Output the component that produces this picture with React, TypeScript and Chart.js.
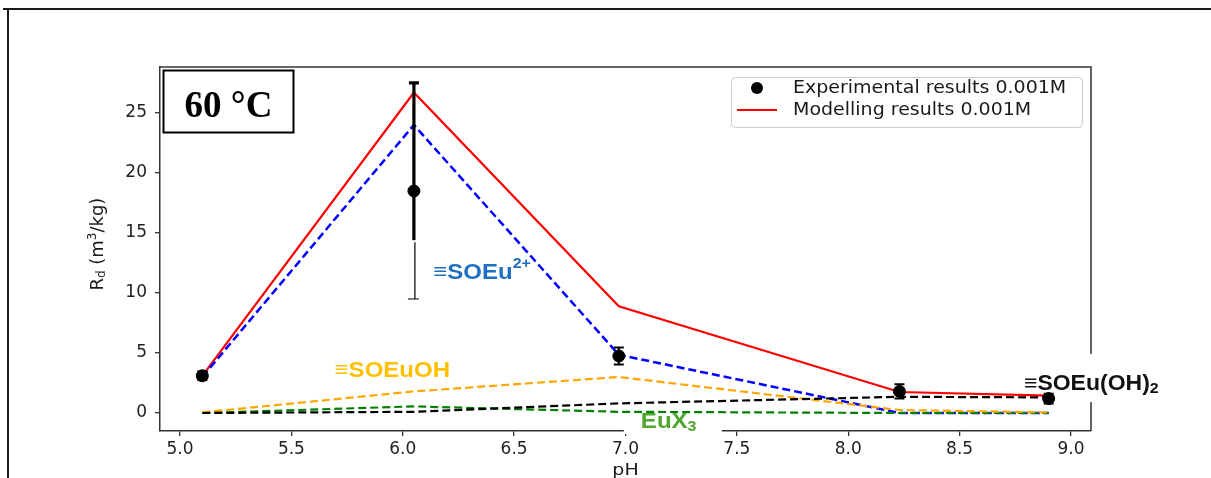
import { useEffect, useRef } from "react";
import { Chart, registerables } from "chart.js";

Chart.register(...registerables);

// pH of each sample
const phValues = [5.1, 6.05, 6.97, 8.23, 8.9];
// Measured distribution coefficients and their uncertainties (m3/kg)
const experimentalRd = [3.1, 18.5, 4.75, 1.8, 1.2];
const experimentalErr = [0.35, 9.0, 0.7, 0.6, 0.4];
// Total modelled Rd and its surface-species contributions
const modelledRd = [3.1, 26.7, 8.9, 1.75, 1.45];
const soeu2plusRd = [3.0, 24.0, 4.85, 0.0, 0.0];
const soeuohRd = [0.05, 1.8, 3.0, 0.25, 0.05];
const eux3Rd = [0.0, 0.55, 0.1, 0.0, 0.0];
const soeuoh2Rd = [0.0, 0.1, 0.8, 1.35, 1.3];

const xTicks = [5.0, 5.5, 6.0, 6.5, 7.0, 7.5, 8.0, 8.5, 9.0];
const yTicks = [0, 5, 10, 15, 20, 25];
const legendLabels = ["Experimental results 0.001M", "Modelling results 0.001M"];
const temperatureLabel = "60 °C";

const SQUISH = 0.88;
const LABEL_SQUISH = 0.95;
const SANS = '"DejaVu Sans", sans-serif';
const BOLD_SANS = '"Liberation Sans", Arial, sans-serif';

type Part = { text: string; size: number; dy: number };

function squished(ctx: CanvasRenderingContext2D, text: string, x: number, y: number, font: string, color: string, baseline: CanvasTextBaseline = "alphabetic", sy = SQUISH) {
  ctx.save();
  ctx.font = font;
  ctx.fillStyle = color;
  ctx.textAlign = "left";
  ctx.textBaseline = baseline;
  ctx.translate(x, y);
  ctx.scale(1, sy);
  ctx.fillText(text, 0, 0);
  const w = ctx.measureText(text).width;
  ctx.restore();
  return w;
}

function richLabel(ctx: CanvasRenderingContext2D, x: number, y: number, parts: Part[], color: string) {
  let cx = x;
  for (const p of parts) {
    cx += squished(ctx, p.text, cx, y + p.dy, `bold ${p.size}px ${BOLD_SANS}`, color, "alphabetic", LABEL_SQUISH);
  }
  return cx - x;
}

const pts = (ys: number[]) => phValues.map((x, i) => ({ x, y: ys[i] }));

const decorations = {
  id: "decorations",
  beforeDraw(chart: any) {
    const ctx = chart.ctx as CanvasRenderingContext2D;
    ctx.save();
    ctx.fillStyle = "#ffffff";
    ctx.fillRect(0, 0, chart.width, chart.height);
    ctx.restore();
  },
  afterDatasetsDraw(chart: any) {
    const ctx = chart.ctx as CanvasRenderingContext2D;
    const xs = chart.scales.x;
    const ys = chart.scales.y;
    ctx.save();
    ctx.strokeStyle = "#000";
    ctx.lineCap = "butt";
    phValues.forEach((ph, i) => {
      const px = xs.getPixelForValue(ph);
      const top = ys.getPixelForValue(experimentalRd[i] + experimentalErr[i]);
      const bot = ys.getPixelForValue(experimentalRd[i] - experimentalErr[i]);
      ctx.lineWidth = experimentalErr[i] > 5 ? 3.2 : 2;
      ctx.beginPath();
      ctx.moveTo(px, top);
      ctx.lineTo(px, bot);
      ctx.moveTo(px - 5, top);
      ctx.lineTo(px + 5, top);
      ctx.moveTo(px - 5, bot);
      ctx.lineTo(px + 5, bot);
      ctx.stroke();
    });
    ctx.restore();
  },
  afterDraw(chart: any) {
    const ctx = chart.ctx as CanvasRenderingContext2D;
    const { left, right, top, bottom } = chart.chartArea;
    const xs = chart.scales.x;
    const ys = chart.scales.y;

    // top and right spines
    ctx.save();
    ctx.strokeStyle = "#333";
    ctx.lineWidth = 1.5;
    ctx.beginPath();
    ctx.moveTo(left, top);
    ctx.lineTo(right, top);
    ctx.lineTo(right, bottom);
    ctx.stroke();
    ctx.restore();

    // outer figure frame
    ctx.save();
    ctx.fillStyle = "#1a1a1a";
    ctx.fillRect(3, 8, chart.width - 3, 2);
    ctx.fillRect(7, 9, 2, chart.height - 9);
    ctx.restore();

    // temperature box
    ctx.save();
    ctx.fillStyle = "#fff";
    ctx.fillRect(left + 3, top + 3, 131, 63);
    ctx.strokeStyle = "#000";
    ctx.lineWidth = 2;
    ctx.strokeRect(left + 3.5, top + 3.5, 130, 62);
    ctx.fillStyle = "#000";
    ctx.font = 'bold 37px "Liberation Serif", "Times New Roman", serif';
    ctx.textAlign = "center";
    ctx.textBaseline = "alphabetic";
    ctx.fillText(temperatureLabel, left + 68.5, top + 50);
    ctx.restore();

    // legend
    const lx = right - 360;
    const ly = top + 10;
    ctx.save();
    ctx.beginPath();
    ctx.roundRect(lx + 0.5, ly + 0.5, 351, 50, 4);
    ctx.fillStyle = "rgba(255,255,255,0.85)";
    ctx.fill();
    ctx.strokeStyle = "#cccccc";
    ctx.lineWidth = 1;
    ctx.stroke();
    ctx.fillStyle = "#000";
    ctx.beginPath();
    ctx.arc(lx + 26, ly + 11, 6, 0, Math.PI * 2);
    ctx.fill();
    ctx.strokeStyle = "#ff0000";
    ctx.lineWidth = 2;
    ctx.beginPath();
    ctx.moveTo(lx + 6, ly + 33);
    ctx.lineTo(lx + 46, ly + 33);
    ctx.stroke();
    ctx.restore();
    squished(ctx, legendLabels[0], lx + 62, ly + 11, `19px ${SANS}`, "#1a1a1a", "middle", 0.92);
    squished(ctx, legendLabels[1], lx + 62, ly + 33, `19px ${SANS}`, "#1a1a1a", "middle", 0.92);

    // lower whisker of the 6.05 error bar continues thin behind the ≡SOEu²⁺ label
    const ex = xs.getPixelForValue(phValues[1]);
    const cut = ys.getPixelForValue(14.4);
    const low = ys.getPixelForValue(experimentalRd[1] - experimentalErr[1]);
    ctx.save();
    ctx.fillStyle = "#fff";
    ctx.fillRect(ex - 7, cut, 14, low - cut + 3);
    ctx.strokeStyle = "#000";
    ctx.lineWidth = 1.2;
    ctx.beginPath();
    ctx.moveTo(ex + 1, cut + 2);
    ctx.lineTo(ex + 1, low);
    ctx.moveTo(ex - 6, low);
    ctx.lineTo(ex + 5, low);
    ctx.stroke();
    ctx.restore();

    // species labels
    const a = { x: xs.getPixelForValue(6.137), y: ys.getPixelForValue(11.2) };
    richLabel(ctx, a.x, a.y, [
      { text: "≡SOEu", size: 24, dy: 0 },
      { text: "2+", size: 16, dy: -11 },
    ], "#1f70c1");

    const b = { x: xs.getPixelForValue(5.694), y: ys.getPixelForValue(3.0) };
    richLabel(ctx, b.x, b.y, [{ text: "≡SOEuOH", size: 24, dy: 0 }], "#ffc000");

    const c = { x: xs.getPixelForValue(7.069), y: ys.getPixelForValue(-1.25) };
    ctx.save();
    ctx.fillStyle = "#fff";
    ctx.fillRect(c.x - 17, c.y - 10, 98, 16);
    ctx.restore();
    richLabel(ctx, c.x, c.y, [
      { text: "EuX", size: 24, dy: 0 },
      { text: "3", size: 16, dy: 3 },
    ], "#4ea72e");

    const d = { x: xs.getPixelForValue(8.789), y: ys.getPixelForValue(1.92) };
    ctx.save();
    ctx.fillStyle = "#fff";
    ctx.fillRect(d.x + 61, d.y - 36, 74, 48);
    ctx.restore();
    richLabel(ctx, d.x, d.y, [
      { text: "≡SOEu(OH)", size: 23, dy: 0 },
      { text: "2", size: 16, dy: 3 },
    ], "#111");

    // axis titles
    ctx.save();
    ctx.fillStyle = "#1a1a1a";
    ctx.font = `19px ${SANS}`;
    ctx.textAlign = "center";
    ctx.textBaseline = "alphabetic";
    ctx.translate((left + right) / 2, chart.height - 3);
    ctx.scale(1, SQUISH);
    ctx.fillText("pH", 0, 0);
    ctx.restore();

    ctx.save();
    ctx.fillStyle = "#1a1a1a";
    ctx.textBaseline = "middle";
    ctx.textAlign = "left";
    ctx.translate(left - 62, ys.getPixelForValue(10.2));
    ctx.rotate(-Math.PI / 2);
    const title: Part[] = [
      { text: "R", size: 18, dy: 0 },
      { text: "d", size: 12, dy: 4 },
      { text: " (m", size: 18, dy: 0 },
      { text: "3", size: 12, dy: -5 },
      { text: "/kg)", size: 18, dy: 0 },
    ];
    let tx = 0;
    for (const p of title) {
      ctx.font = `${p.size}px ${SANS}`;
      ctx.fillText(p.text, tx, p.dy);
      tx += ctx.measureText(p.text).width;
    }
    ctx.restore();
  },
};

export default function App() {
  const canvasRef = useRef<HTMLCanvasElement | null>(null);

  useEffect(() => {
    const canvas = canvasRef.current;
    if (!canvas) return;
    const dashed = (data: number[], color: string, order: number, width = 2.2) => ({
      label: "",
      data: pts(data),
      borderColor: color,
      backgroundColor: color,
      borderWidth: width,
      borderDash: [8, 4],
      pointRadius: 0,
      fill: false,
      tension: 0,
      order,
    });
    const chart = new Chart(canvas, {
      type: "line",
      data: {
        datasets: [
          {
            label: legendLabels[0],
            data: pts(experimentalRd),
            showLine: false,
            pointRadius: 6,
            pointBackgroundColor: "#000",
            pointBorderColor: "#000",
            borderColor: "#000",
            order: 0,
          } as any,
          dashed(soeuoh2Rd, "#000000", 1),
          dashed(soeuohRd, "#ffa500", 2),
          dashed(eux3Rd, "#008000", 3),
          dashed(soeu2plusRd, "#0000ff", 4, 2.5),
          {
            label: legendLabels[1],
            data: pts(modelledRd),
            borderColor: "#ff0000",
            backgroundColor: "#ff0000",
            borderWidth: 2.2,
            pointRadius: 0,
            fill: false,
            tension: 0,
            order: 5,
          },
        ],
      },
      options: {
        responsive: false,
        animation: false,
        layout: { padding: { left: 0, top: 67, right: 120, bottom: 0 } },
        plugins: { legend: { display: false }, tooltip: { enabled: false } },
        scales: {
          x: {
            type: "linear",
            min: 4.91,
            max: 9.09,
            afterBuildTicks: (s: any) => {
              s.ticks = xTicks.map((v) => ({ value: v }));
            },
            afterFit: (s: any) => {
              s.height = 47;
            },
            ticks: {
              callback: (v: any) => Number(v).toFixed(1),
              font: { family: SANS, size: 17 },
              color: "#222",
              padding: 3,
              maxRotation: 0,
              autoSkip: false,
            },
            grid: { display: true, drawOnChartArea: false, drawTicks: true, tickLength: 5, color: "#333", lineWidth: 1.3 },
            border: { display: true, color: "#333", width: 1.5 },
          },
          y: {
            type: "linear",
            min: -1.5,
            max: 28.83,
            afterBuildTicks: (s: any) => {
              s.ticks = yTicks.map((v) => ({ value: v }));
            },
            afterFit: (s: any) => {
              s.width = 160;
            },
            ticks: {
              callback: (v: any) => String(v),
              font: { family: SANS, size: 17 },
              color: "#222",
              padding: 8,
            },
            grid: { display: true, drawOnChartArea: false, drawTicks: true, tickLength: 5, color: "#333", lineWidth: 1.3 },
            border: { display: true, color: "#333", width: 1.5 },
          },
        },
      },
      plugins: [decorations],
    });
    return () => chart.destroy();
  }, []);

  return (
    <div style={{ position: "fixed", left: 0, top: 0, width: 1211, height: 478, background: "#fff" }}>
      <canvas ref={canvasRef} width={1211} height={478} style={{ display: "block" }} />
    </div>
  );
}
